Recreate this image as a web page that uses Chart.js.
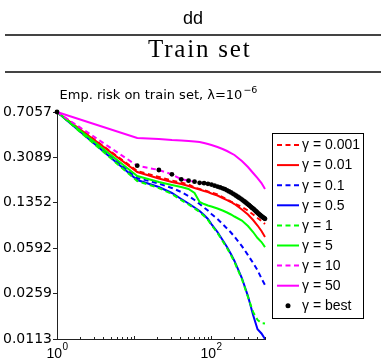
<!DOCTYPE html>
<html><head><meta charset="utf-8">
<script src="https://cdn.jsdelivr.net/npm/chart.js@4/dist/chart.umd.min.js"></script>
<style>
html,body{margin:0;padding:0;background:#fff;}
#wrap{position:relative;width:381px;height:361px;overflow:hidden;background:#fff;}
#hd1{position:absolute;left:5px;top:9px;width:376px;text-align:center;font-family:"Liberation Sans",Arial,sans-serif;font-size:18px;line-height:18px;color:#000;}
#hd2{position:absolute;left:148px;top:36px;white-space:nowrap;font-family:"Liberation Serif",serif;font-size:25px;line-height:25px;letter-spacing:1.8px;color:#000;}
.rule{position:absolute;left:5px;width:376px;height:2px;background:#444;}
#c{position:absolute;left:0;top:0;}
</style></head>
<body>
<div id="wrap">
<canvas id="c" width="381" height="361"></canvas>
<div id="hd1">dd</div>
<div class="rule" style="top:34px"></div>
<div id="hd2">Train set</div>
<div class="rule" style="top:71px"></div>
</div>
<script>
// ---- data ----
const lineIters = [1,11,21,31,41,51,61,71,81,91,101,121,141,161,181,201,251,301,351,401,451,501];
const bestIters = [1,11,21,31,41,51,61,71,81,91,101,111,121,131,141,151,161,171,181,191,201,211,221,231,241,251,261,271,281,291,301,311,321,331,341,351,361,371,381,391,401,411,421,431,441,451,461,471,481,491,501];

const g0001 = [0.7057,0.2409,0.2160,0.2026,0.1954,0.1884,0.1784,0.1736,0.1704,0.1658,0.1628,0.1570,0.1500,0.1433,0.1382,0.1333,0.1250,0.1173,0.1091,0.1023,0.0969,0.0917];
const g001  = [0.7057,0.2366,0.2101,0.1971,0.1901,0.1833,0.1767,0.1720,0.1673,0.1643,0.1599,0.1542,0.1473,0.1420,0.1370,0.1320,0.1195,0.1091,0.0987,0.0893,0.0808,0.0724];
const g01   = [0.7057,0.2121,0.1918,0.1767,0.1643,0.1528,0.1420,0.1320,0.1239,0.1173,0.1101,0.1005,0.0917,0.0845,0.0786,0.0729,0.0614,0.0521,0.0451,0.0395,0.0340,0.0302];
const g05   = [0.7057,0.2045,0.1800,0.1614,0.1447,0.1333,0.1239,0.1163,0.1081,0.1005,0.0917,0.0793,0.0685,0.0603,0.0531,0.0468,0.0343,0.0247,0.0175,0.0135,0.0125,0.0113];
const g1    = [0.7057,0.2008,0.1767,0.1585,0.1420,0.1309,0.1217,0.1142,0.1061,0.0987,0.0901,0.0779,0.0673,0.0592,0.0521,0.0459,0.0337,0.0243,0.0185,0.0160,0.0151,0.0150];
const g5    = [0.7057,0.2199,0.1971,0.1867,0.1800,0.1736,0.1614,0.1370,0.1320,0.1285,0.1262,0.1217,0.1173,0.1131,0.1091,0.1052,0.0978,0.0885,0.0793,0.0711,0.0661,0.0603];
const g10   = [0.7057,0.2653,0.2454,0.2268,0.2071,0.2019,0.1983,0.1943,0.1929,0.1908,0.1881,0.1813,0.1758,0.1695,0.1631,0.1567,0.1431,0.1313,0.1215,0.1142,0.1069,0.1009];
const g50   = [0.7057,0.4395,0.4316,0.4237,0.4198,0.4160,0.4122,0.4085,0.4010,0.3937,0.3867,0.3729,0.3596,0.3467,0.3343,0.3225,0.2890,0.2592,0.2323,0.2120,0.1936,0.1736];
const gBest = [0.7057,0.2653,0.2454,0.2268,0.2071,0.2019,0.1983,0.1943,0.1929,0.1908,0.1881,0.1846,0.1813,0.1787,0.1758,0.1729,0.1695,0.1661,0.1631,0.1596,0.1567,0.1536,0.1508,0.1481,0.1457,0.1431,0.1405,0.1382,0.1359,0.1335,0.1313,0.1292,0.1271,0.1250,0.1230,0.1215,0.1197,0.1178,0.1158,0.1142,0.1125,0.1109,0.1095,0.1081,0.1069,0.1057,0.1046,0.1036,0.1027,0.1018,0.1009];

const seriesLabels = ['\u03b3 = 0.001','\u03b3 = 0.01','\u03b3 = 0.1','\u03b3 = 0.5','\u03b3 = 1','\u03b3 = 5','\u03b3 = 10','\u03b3 = 50','\u03b3 = best'];
const yTickValues = [0.0113,0.0259,0.0592,0.1352,0.3089,0.7057];
const yTickLabels = ['0.0113','0.0259','0.0592','0.1352','0.3089','0.7057'];
const xTickValues = [1,100];
const xTickBase = ['10','10'];
const xTickExp = ['0','2'];
const titleMain = 'Emp. risk on train set, \u03bb=10';
const titleExp = '\u22126';

const FONT = '"Liberation Sans", Arial, Helvetica, sans-serif';
const WIDE = '"DejaVu Sans", "Liberation Sans", sans-serif';

function pts(xs, ys){ return xs.map((x,i)=>({x:x, y:ys[i]})); }
function lineDs(label, data, color, dashed, order){
  return {label, data: pts(lineIters, data), borderColor: color, backgroundColor: color,
    borderWidth: 2, borderDash: dashed ? [5,3.5] : [], pointRadius: 0, tension: 0,
    fill: false, order, clip: 6};
}

const datasets = [
  lineDs(seriesLabels[0], g0001, '#ff0000', true, 8),
  lineDs(seriesLabels[1], g001,  '#ff0000', false, 7),
  lineDs(seriesLabels[2], g01,   '#0000ff', true, 6),
  lineDs(seriesLabels[3], g05,   '#0000ff', false, 5),
  lineDs(seriesLabels[4], g1,    '#00ff00', true, 4),
  lineDs(seriesLabels[5], g5,    '#00ff00', false, 3),
  lineDs(seriesLabels[6], g10,   '#ff00ff', true, 2),
  lineDs(seriesLabels[7], g50,   '#ff00ff', false, 1),
  {label: seriesLabels[8], data: pts(bestIters, gBest), showLine: false, borderColor:'#000',
   backgroundColor:'#000', pointRadius: 2.4, pointBorderWidth: 0, order: 0, clip: 6}
];

const decor = {
  id: 'decor',
  afterDraw(chart){
    const ctx = chart.ctx, a = chart.chartArea, xs = chart.scales.x;
    ctx.save();
    // title with superscript
    ctx.fillStyle = '#000';
    ctx.textBaseline = 'alphabetic';
    ctx.font = '13px ' + WIDE;
    const w1 = ctx.measureText(titleMain).width;
    ctx.font = '9.5px ' + WIDE;
    const w2 = ctx.measureText(titleExp).width;
    const tx = 158 - (w1 + w2)/2;
    ctx.font = '13px ' + WIDE;
    ctx.fillText(titleMain, tx, 99);
    ctx.font = '9.5px ' + WIDE;
    ctx.fillText(titleExp, tx + w1 + 1, 93);

    // x ticks (inward), major + minor
    ctx.strokeStyle = '#222'; ctx.lineWidth = 1;
    const minors = [];
    for (let dec = 1; dec <= 100; dec *= 10) for (let k = 1; k <= 9; k++) minors.push(k*dec);
    minors.forEach(v => {
      if (v > xs.max) return;
      const px = Math.round(xs.getPixelForValue(v)) + 0.5;
      const len = (v === 1 || v === 10 || v === 100) ? 3 : 2;
      ctx.beginPath(); ctx.moveTo(px, a.bottom); ctx.lineTo(px, a.bottom - len); ctx.stroke();
    });
    // x tick labels 10^k
    xTickValues.forEach((v,i) => {
      const px = xs.getPixelForValue(v);
      ctx.font = '14px ' + FONT;
      const wb = ctx.measureText(xTickBase[i]).width;
      ctx.font = '10px ' + FONT;
      const we = ctx.measureText(xTickExp[i]).width;
      const x0 = px - (wb + we)/2;
      ctx.font = '14px ' + FONT;
      ctx.fillText(xTickBase[i], x0, 358);
      ctx.font = '10px ' + FONT;
      ctx.fillText(xTickExp[i], x0 + wb + 0.5, 350);
    });

    // legend box
    const L = {x: 272, y: 133, w: 91, h: 185, first: 145, step: 20.1};
    ctx.fillStyle = '#fff';
    ctx.fillRect(L.x, L.y, L.w, L.h);
    ctx.strokeStyle = '#000'; ctx.lineWidth = 1;
    ctx.strokeRect(L.x + 0.5, L.y + 0.5, L.w, L.h);
    chart.data.datasets.forEach((ds, i) => {
      const y = L.first + i * L.step;
      if (ds.showLine === false) {
        ctx.beginPath(); ctx.arc(288, y, 2.5, 0, Math.PI*2);
        ctx.fillStyle = ds.backgroundColor; ctx.fill();
      } else {
        ctx.beginPath(); ctx.setLineDash(ds.borderDash || []);
        ctx.strokeStyle = ds.borderColor; ctx.lineWidth = ds.borderWidth;
        ctx.moveTo(277, y); ctx.lineTo(299, y); ctx.stroke(); ctx.setLineDash([]);
      }
      ctx.fillStyle = '#000'; ctx.font = '14px ' + FONT; ctx.textBaseline = 'middle';
      ctx.fillText(ds.label, 302, y + 0.5);
    });
    ctx.restore();
  }
};

new Chart(document.getElementById('c'), {
  type: 'line',
  data: { datasets },
  options: {
    responsive: false, animation: false, devicePixelRatio: 1,
    layout: { padding: { left: 0, top: 112, right: 116, bottom: 0 } },
    plugins: { legend: { display: false }, tooltip: { enabled: false }, title: { display: false } },
    scales: {
      x: {
        type: 'logarithmic', min: 1, max: 501,
        afterBuildTicks: s => { s.ticks = xTickValues.map(v => ({value: v})); },
        afterFit: s => { s.height = 22; },
        ticks: { display: false },
        grid: { display: false },
        border: { display: true, color: '#222', width: 1 }
      },
      y: {
        type: 'logarithmic', min: 0.0113, max: 0.7057,
        afterBuildTicks: s => { s.ticks = yTickValues.map(v => ({value: v})); },
        afterFit: s => { s.width = 57; },
        ticks: { padding: 1, color: '#000', font: { family: WIDE, size: 14 },
                 callback: (v, i) => yTickLabels[i] },
        grid: { display: true, drawOnChartArea: false, drawTicks: true, tickLength: 4, color: '#222' },
        border: { display: true, color: '#222', width: 1 }
      }
    }
  },
  plugins: [decor]
});
</script>
</body></html>
